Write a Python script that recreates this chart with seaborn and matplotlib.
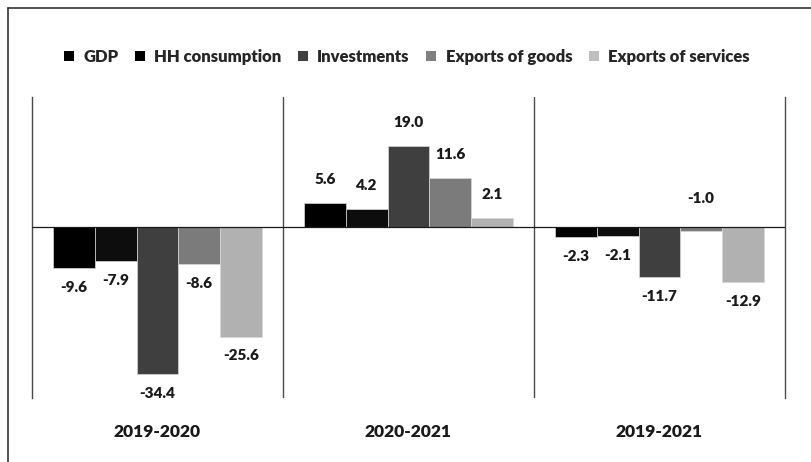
import matplotlib
matplotlib.use("Agg")
import matplotlib.pyplot as plt
from matplotlib.patches import Patch
from matplotlib.lines import Line2D
import numpy as np
import pandas as pd
import seaborn as sns

# Growth rates, % change
periods = ["2019-2020", "2020-2021", "2019-2021"]
series = ["GDP", "HH consumption", "Investments", "Exports of goods", "Exports of services"]
gdp = [-9.6, 5.6, -2.3]
hh_consumption = [-7.9, 4.2, -2.1]
investments = [-34.4, 19.0, -11.7]
exports_goods = [-8.6, 11.6, -1.0]
exports_services = [-25.6, 2.1, -12.9]

bar_colors = ["#000000", "#0d0d0d", "#3f3f3f", "#7b7b7b", "#b1b1b1"]
legend_colors = ["#000000", "#000000", "#404040", "#808080", "#bfbfbf"]

values = [gdp, hh_consumption, investments, exports_goods, exports_services]
df = pd.DataFrame(
    [(p, s, v[i]) for s, v in zip(series, values) for i, p in enumerate(periods)],
    columns=["period", "series", "value"],
)

sns.set_theme(style="white")
plt.rcParams["font.family"] = ["Lato", "DejaVu Sans"]
plt.rcParams["font.weight"] = "heavy"
TXT = "#1a1a1a"
W = "heavy"

fig = plt.figure(figsize=(8.12, 4.62), dpi=100)
ax = fig.add_axes([32 / 812, 1 - 398 / 462, (785 - 32) / 812, (398 - 97) / 462])

sns.barplot(
    data=df, x="period", y="value", hue="series",
    order=periods, hue_order=series, palette=bar_colors,
    width=0.83, gap=0, dodge=True, legend=False, errorbar=None,
    edgecolor="#d8d8d8", linewidth=0.5, saturation=1, ax=ax,
)

ax.set_ylim(-40, 30.5)
ax.set_xlim(-0.5, 2.5)
ax.set_yticks([])
ax.set_xlabel("")
ax.set_ylabel("")
ax.tick_params(axis="x", length=0, pad=19)
for lab in ax.get_xticklabels():
    lab.set_fontsize(12.5)
    lab.set_fontweight(W)
    lab.set_color(TXT)

for side in ["top", "bottom"]:
    ax.spines[side].set_visible(False)
for side in ["left", "right"]:
    ax.spines[side].set_visible(True)
    ax.spines[side].set_color("#4a4a4a")
    ax.spines[side].set_linewidth(1.0)
for xs in [0.5, 1.5]:
    ax.axvline(xs, color="#4a4a4a", lw=1.0, zorder=0)
ax.axhline(0, color="#1a1a1a", lw=0.9, zorder=3)

# value labels
for cont in ax.containers:
    for bar in cont:
        v = bar.get_height()
        x = bar.get_x() + bar.get_width() / 2
        if v >= 0:
            anchor, dy = v, 17
        elif v > -1.5:
            # tiny bars: label sits above the axis line
            anchor, dy = 0, 21
        else:
            anchor, dy = v, -14
        ax.annotate(f"{v:.1f}", (x, anchor), xytext=(0, dy), textcoords="offset points",
                    ha="center", va="center", fontsize=11, fontweight=W, color=TXT)

handles = [Patch(facecolor=c, edgecolor="none") for c in legend_colors]
fig.legend(handles, series, loc="center", bbox_to_anchor=(0.501, 1 - 57 / 462), ncol=5,
           frameon=False, handlelength=0.6, handleheight=0.6, handletextpad=0.55,
           columnspacing=1.0, prop={"size": 12, "weight": W})

# outer frame (top and left edges)
fig.add_artist(Line2D([8 / 812, 8 / 812], [0, 1 - 8 / 462], transform=fig.transFigure, color="#333333", lw=1.2))
fig.add_artist(Line2D([8 / 812, 1], [1 - 8 / 462, 1 - 8 / 462], transform=fig.transFigure, color="#333333", lw=1.2))

fig.savefig("out.png", dpi=100)
